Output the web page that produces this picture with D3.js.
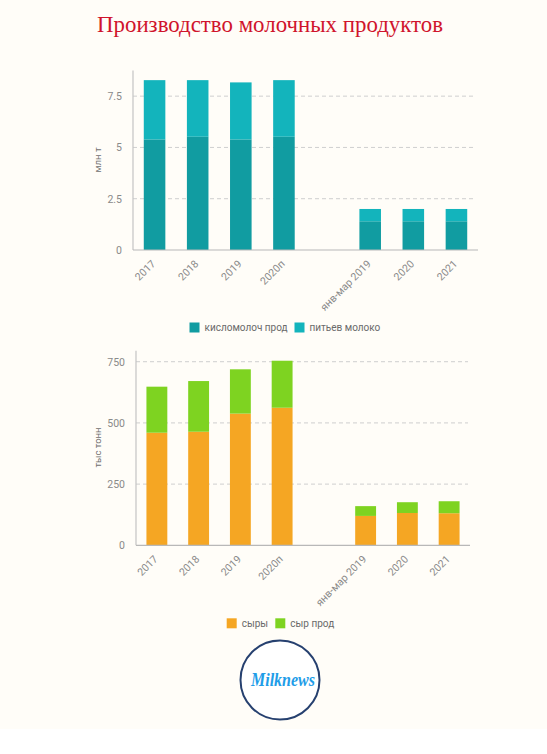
<!DOCTYPE html>
<html lang="ru">
<head>
<meta charset="utf-8">
<script src="https://cdn.jsdelivr.net/npm/d3@7.9.0/dist/d3.min.js"></script>
<style>
  html, body { margin: 0; padding: 0; background: #ffffff; }
  svg { display: block; }
  .tick text { font-family: Roboto, "Open Sans", sans-serif; fill: #8a8a8a; }
</style>
</head>
<body>
<svg id="chart" width="547" height="754"></svg>
<script>
// ===== Data =====
const categories = ['2017', '2018', '2019', '2020п', '', 'янв-мар 2019', '2020', '2021'];

// top chart, млн т
const kislomoloch = [5.39, 5.52, 5.39, 5.52, null, 1.40, 1.40, 1.40];
const pitievMoloko = [2.89, 2.76, 2.78, 2.76, null, 0.60, 0.60, 0.60];
const topTicks = [0, 2.5, 5, 7.5];
const topTickLabels = ['0', '2.5', '5', '7.5'];

// bottom chart, тыс тонн
const syry = [460, 464, 538, 562, null, 120, 132, 131];
const syrProd = [188, 207, 181, 192, null, 40, 44, 49];
const bottomTicks = [0, 250, 500, 750];
const bottomTickLabels = ['0', '250', '500', '750'];

const svg = d3.select('#chart');

// page background
svg.append('rect').attr('x', 0).attr('y', 0).attr('width', 547).attr('height', 729).attr('fill', '#fffdf8');

// title
svg.append('text')
  .attr('x', 97).attr('y', 31.5)
  .attr('textLength', 346).attr('lengthAdjust', 'spacingAndGlyphs')
  .attr('font-family', '"Liberation Serif", "DejaVu Serif", serif')
  .attr('font-size', 23)
  .attr('fill', '#d0142c')
  .text('Производство молочных продуктов');

// ===== Stacked bar chart =====
function drawChart(opts) {
  const rows = categories.map((c, i) => ({ cat: c, a: opts.seriesA[i] || 0, b: opts.seriesB[i] || 0 }));
  const stacked = d3.stack().keys(['a', 'b'])(rows);

  const x = d3.scaleBand()
    .domain(categories)
    .range([opts.left, opts.right])
    .paddingInner(0.5)
    .paddingOuter(0.25);

  const y = d3.scaleLinear()
    .domain([0, opts.yMax])
    .range([opts.bottom, opts.top]);

  const g = svg.append('g');

  // dashed grid
  g.selectAll('line.grid')
    .data(opts.ticks.filter(t => t > 0))
    .join('line')
    .attr('class', 'grid')
    .attr('x1', opts.left).attr('x2', opts.right - 2)
    .attr('y1', d => y(d)).attr('y2', d => y(d))
    .attr('stroke', '#cfcfcf')
    .attr('stroke-width', 1)
    .attr('stroke-dasharray', '4,3');

  // bars
  const colors = [opts.colorA, opts.colorB];
  stacked.forEach((layer, k) => {
    g.selectAll(null)
      .data(layer.filter(d => d.data.cat !== ''))
      .join('rect')
      .attr('x', d => x(d.data.cat))
      .attr('width', x.bandwidth())
      .attr('y', d => y(d[1]))
      .attr('height', d => y(d[0]) - y(d[1]))
      .attr('fill', colors[k]);
  });

  // y axis
  const yAxis = g.append('g')
    .attr('transform', `translate(${opts.left},0)`)
    .call(d3.axisLeft(y).tickValues(opts.ticks).tickFormat((d, i) => opts.tickLabels[i]).tickSize(0).tickPadding(11));
  yAxis.select('.domain').remove();
  yAxis.selectAll('text').attr('font-size', 10.5);

  g.append('line')
    .attr('x1', opts.left).attr('x2', opts.left)
    .attr('y1', opts.top).attr('y2', opts.bottom)
    .attr('stroke', '#c4c4c4').attr('stroke-width', 1.2);

  // x axis
  const xAxis = g.append('g')
    .attr('transform', `translate(0,${opts.bottom})`)
    .call(d3.axisBottom(x).tickSize(0));
  xAxis.select('.domain').remove();
  xAxis.selectAll('text')
    .attr('y', 0).attr('dy', 0)
    .attr('font-size', 10.5)
    .attr('transform', 'translate(1.5,14.5) rotate(-45)')
    .style('text-anchor', 'end');

  g.append('line')
    .attr('x1', opts.left).attr('x2', opts.right)
    .attr('y1', opts.bottom).attr('y2', opts.bottom)
    .attr('stroke', '#b8b8b8').attr('stroke-width', 1.2);

  // y title
  g.append('text')
    .attr('transform', `translate(${opts.titleX},${opts.titleY}) rotate(-90)`)
    .attr('text-anchor', 'middle')
    .attr('dominant-baseline', 'middle')
    .attr('font-family', 'Roboto, sans-serif')
    .attr('font-size', 9.5)
    .attr('fill', '#6f6f6f')
    .text(opts.yTitle);

  // legend
  const leg = g.append('g').attr('transform', `translate(0,${opts.legendY})`);
  opts.legend.forEach((item, i) => {
    leg.append('rect')
      .attr('x', item.x).attr('y', -5)
      .attr('width', 10).attr('height', 10)
      .attr('fill', colors[i]);
    leg.append('text')
      .attr('x', item.x + 15).attr('y', 0)
      .attr('dominant-baseline', 'central')
      .attr('font-family', 'Roboto, sans-serif')
      .attr('font-size', 10)
      .attr('fill', '#6a6a6a')
      .text(item.label);
  });
}

drawChart({
  seriesA: kislomoloch, seriesB: pitievMoloko,
  colorA: '#119ca1', colorB: '#13b4bc',
  left: 133, right: 478, top: 70.5, bottom: 250, yMax: 8.75,
  ticks: topTicks, tickLabels: topTickLabels,
  yTitle: 'млн т', titleX: 98, titleY: 160,
  legendY: 327.5,
  legend: [{ x: 189.5, label: 'кисломолоч прод' }, { x: 294.5, label: 'питьев молоко' }]
});

drawChart({
  seriesA: syry, seriesB: syrProd,
  colorA: '#f5a623', colorB: '#7ed321',
  left: 136, right: 470, top: 350.7, bottom: 545.3, yMax: 795,
  ticks: bottomTicks, tickLabels: bottomTickLabels,
  yTitle: 'тыс тонн', titleX: 98, titleY: 447.5,
  legendY: 623.3,
  legend: [{ x: 226.7, label: 'сыры' }, { x: 275.3, label: 'сыр прод' }]
});

// ===== Logo =====
svg.append('circle')
  .attr('cx', 280).attr('cy', 680).attr('r', 39.5)
  .attr('fill', '#ffffff')
  .attr('stroke', '#26406f').attr('stroke-width', 2);

svg.append('text')
  .attr('x', 251).attr('y', 686)
  .attr('textLength', 64).attr('lengthAdjust', 'spacingAndGlyphs')
  .attr('font-family', '"Liberation Serif", serif')
  .attr('font-style', 'italic').attr('font-weight', 'bold')
  .attr('font-size', 19)
  .attr('fill', '#1e9de8')
  .text('Milknews');
</script>
</body>
</html>
